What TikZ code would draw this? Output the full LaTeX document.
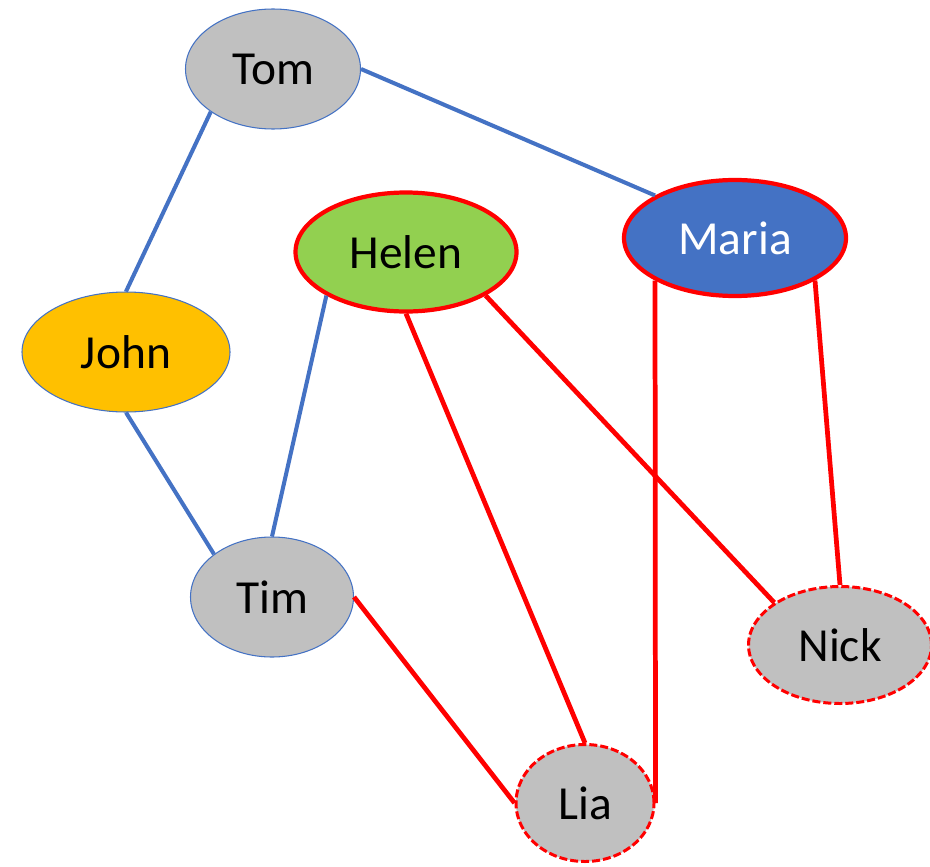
\documentclass[tikz,border=0pt]{standalone}
\usepackage{fontspec}
\setmainfont{Carlito}
\usepackage{xcolor}
\usepackage{tikz}
\usetikzlibrary{shapes.geometric}

\definecolor{pgray}{HTML}{C0C0C0}
\definecolor{pgreen}{HTML}{92D050}
\definecolor{pblue}{HTML}{4472C4}
\definecolor{porange}{HTML}{FFC000}
\definecolor{pred}{HTML}{FF0000}

\begin{document}
\begin{tikzpicture}[
        person/.style={ellipse, inner sep=0pt, font=\fontsize{27}{31}\selectfont},
        plain/.style={person, draw=pblue, line width=0.6pt},
        core/.style={person, draw=pred, line width=2.4pt},
        outer/.style={person, draw=pred, line width=1.7pt, dash pattern=on 0.16cm off 0.06cm},
        tie/.style={draw=pblue, line width=2.3pt},
        link/.style={draw=pred, line width=2.7pt}
    ]
    \useasboundingbox (0,0) rectangle (18.6,-17.32);

    % People
    \node[plain, fill=pgray, minimum width=3.5cm, minimum height=2.4cm] (tom) at (5.46,-1.38) {Tom};
    \node[core, fill=pgreen, minimum width=4.42cm, minimum height=2.38cm] (helen) at (8.12,-5.04) {Helen};
    \node[core, fill=pblue, text=white, minimum width=4.44cm, minimum height=2.32cm] (maria) at (14.7,-4.76) {Maria};
    \node[plain, fill=porange, minimum width=4.16cm, minimum height=2.4cm] (john) at (2.52,-7.04) {John};
    \node[plain, fill=pgray, minimum width=3.26cm, minimum height=2.4cm] (tim) at (5.44,-11.94) {Tim};
    \node[outer, fill=pgray, minimum width=3.66cm, minimum height=2.34cm] (nick) at (16.8,-12.9) {Nick};
    \node[outer, fill=pgray, minimum width=2.76cm, minimum height=2.34cm] (lia) at (11.7,-16.06) {Lia};

    % Blue ties
    \draw[tie] (tom.east) -- (maria.north west);
    \draw[tie] (tom.south west) -- (john.north);
    \draw[tie] (john.south) -- (tim.north west);
    \draw[tie] (helen.south west) -- (tim.north);

    % Red links
    \draw[link] (helen.south) -- (lia.north);
    \draw[link] (helen.south east) -- (nick.north west);
    \draw[link] (maria.south west) -- (lia.east);
    \draw[link] (maria.south east) -- (nick.north);
    \draw[link] (tim.east) -- (lia.west);
\end{tikzpicture}
\end{document}
